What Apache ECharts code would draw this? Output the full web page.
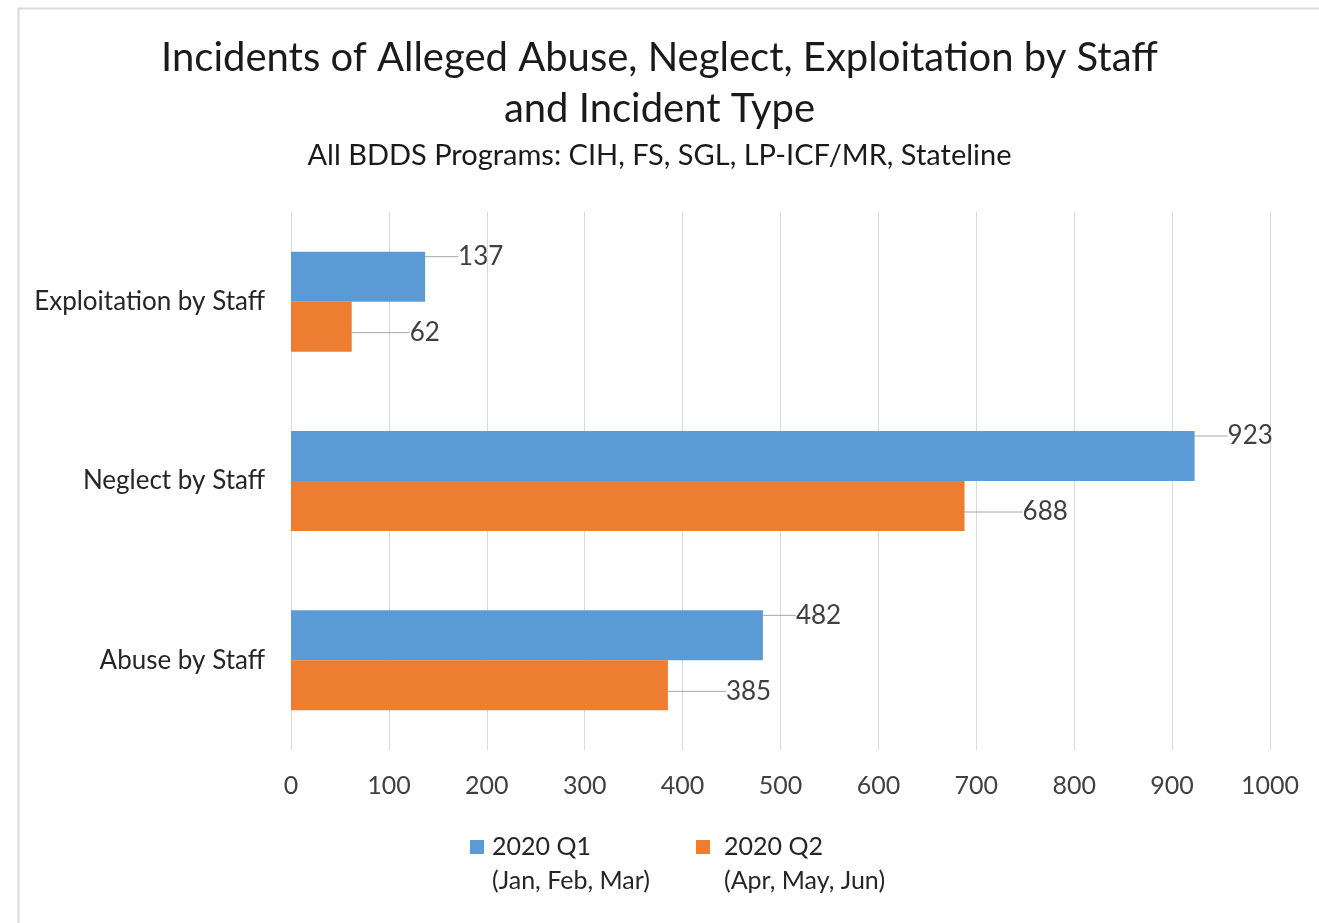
<!DOCTYPE html>
<html><head><meta charset="utf-8">
<script src="https://cdn.jsdelivr.net/npm/echarts@6/dist/echarts.min.js"></script>
<style>html,body{margin:0;padding:0;background:#fff}#c{width:1319px;height:923px}</style>
</head><body><div id="c"></div>
<script>
const categories = ['Exploitation by Staff', 'Neglect by Staff', 'Abuse by Staff'];
const q1Values = [137, 923, 482];
const q2Values = [62, 688, 385];
const seriesNames = ['2020 Q1', '2020 Q2'];
const seriesPeriods = ['(Jan, Feb, Mar)', '(Apr, May, Jun)'];
const titleText = 'Incidents of Alleged Abuse, Neglect, Exploitation by Staff\nand Incident Type';
const subtitleText = 'All BDDS Programs: CIH, FS, SGL, LP-ICF/MR, Stateline';

const FONT = 'Lato';
const chart = echarts.init(document.getElementById('c'));
const legendIcon = 'path://M0,0H14V14H0Z M0,48H14';
function legendFor(i, left, textPad) {
  return {
    data: [seriesNames[i]], left: left, top: 830, padding: 0,
    icon: legendIcon, itemWidth: 14, itemHeight: 48,
    formatter: n => n + '\n' + seriesPeriods[i],
    textStyle: {fontFamily: FONT, fontSize: 25, lineHeight: 34, color: '#262626', padding: [0, 0, 0, textPad]}
  };
}
function barSeries(i, values, color, dx, dy) {
  return {
    type: 'bar', name: seriesNames[i], data: values,
    barWidth: 50, barGap: '0%',
    itemStyle: {color: color},
    label: {show: true, position: 'right', distance: 0, fontFamily: FONT, fontSize: 26, color: '#404040'},
    labelLayout: () => ({dx: dx, dy: dy}),
    labelLine: {show: true, lineStyle: {color: '#a6a6a6', width: 1}}
  };
}
chart.setOption({
  animation: false,
  graphic: [{type: 'rect', left: 16, top: 6, shape: {width: 1400, height: 1000},
    style: {fill: 'none', stroke: '#d9d9d9', lineWidth: 2}, z: -1}],
  title: [
    {text: titleText, left: 'center', top: 33, padding: 0,
     textStyle: {fontFamily: FONT, fontSize: 40, lineHeight: 51, fontWeight: 'normal', color: '#1a1a1a'}},
    {text: subtitleText, left: 'center', top: 141, padding: 0,
     textStyle: {fontFamily: FONT, fontSize: 29, fontWeight: 'normal', color: '#1a1a1a'}}
  ],
  legend: [legendFor(0, 470, 3), legendFor(1, 696, 9)],
  grid: {left: 291, right: 49, top: 212, bottom: 173},
  xAxis: {type: 'value', min: 0, max: 1000, interval: 100,
    axisLine: {show: false}, axisTick: {show: false},
    splitLine: {lineStyle: {color: '#d9d9d9', width: 1}},
    axisLabel: {fontFamily: FONT, fontSize: 25, color: '#404040', margin: 23, formatter: v => String(v)}},
  yAxis: {type: 'category', data: categories, inverse: true,
    axisLine: {show: false}, axisTick: {show: false},
    axisLabel: {fontFamily: FONT, fontSize: 26, color: '#262626', margin: 26}},
  series: [
    barSeries(0, q1Values, '#5B9BD5', 33, -20),
    barSeries(1, q2Values, '#ED7D31', 58, 6)
  ]
});
</script></body></html>
